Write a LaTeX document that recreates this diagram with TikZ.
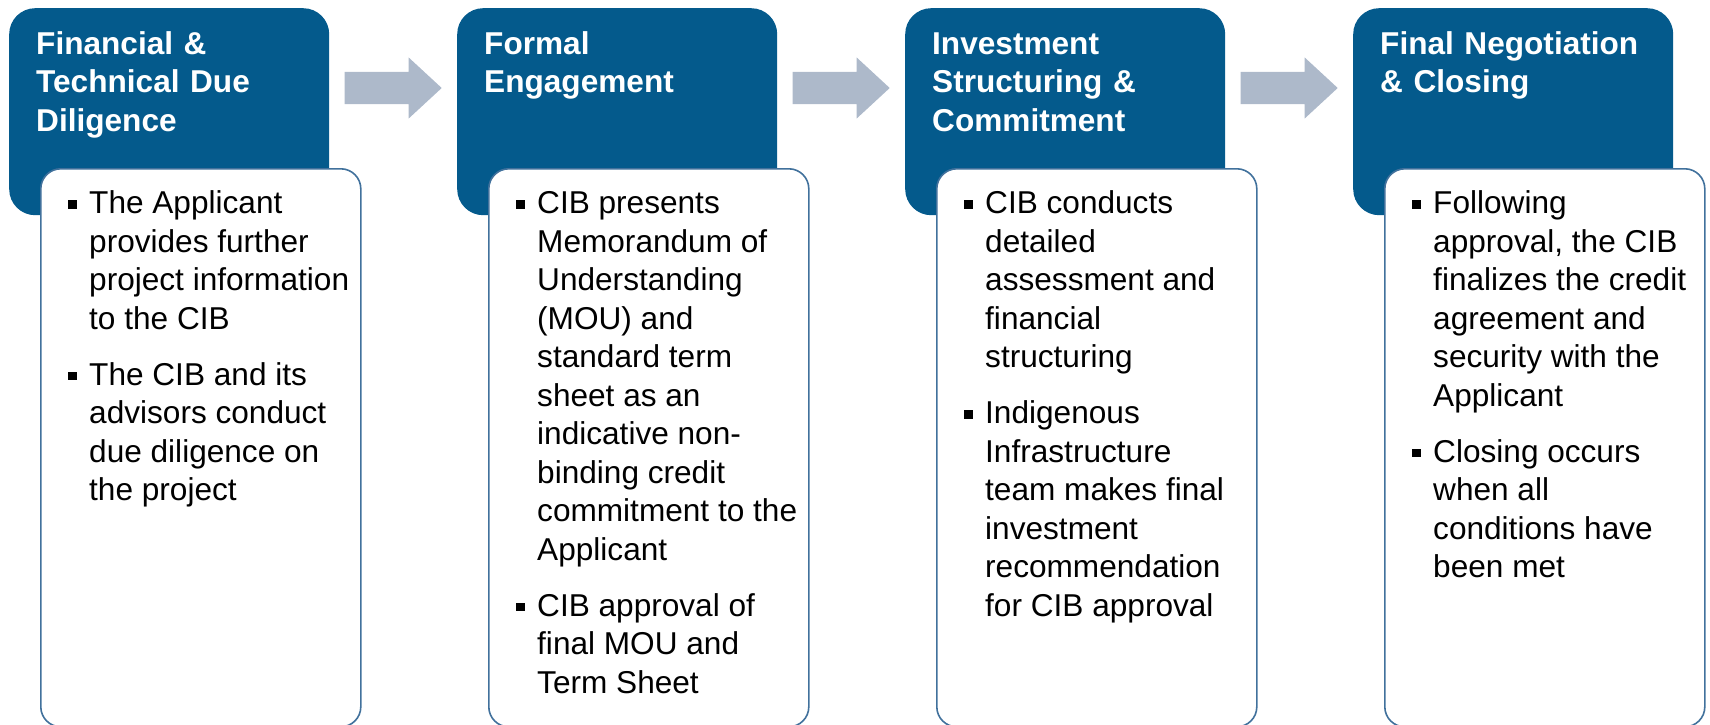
\documentclass[tikz,border=0pt]{standalone}
\usepackage{fontspec}
\setmainfont{Liberation Sans}
\usetikzlibrary{calc}
\definecolor{cibblue}{HTML}{045A8C}
\definecolor{arrowgray}{HTML}{ADB9CA}
\definecolor{edgeblue}{HTML}{41719C}
\newcommand\bitem[1]{\makebox[21.5pt][l]{\rule[5pt]{9pt}{8.5pt}}\begin{tabular}[t]{@{}l@{}}#1\end{tabular}}
\begin{document}
\begin{tikzpicture}[x=1pt,y=-1pt,
  bluebox/.style={fill=cibblue, rounded corners=26pt, minimum width=320pt, minimum height=207pt, inner sep=0pt, anchor=north west},
  whitebox/.style={fill=white, draw=edgeblue, line width=1.6pt, rounded corners=20pt, minimum width=320pt, minimum height=558pt, inner sep=0pt, anchor=north west},
  titletext/.style={text=white, font=\fontsize{31.6pt}{38.3pt}\selectfont\bfseries, text width=300pt, align=left, inner sep=0pt, anchor=base west},
  bodytext/.style={text=black, font=\fontsize{31.6pt}{38.5pt}\selectfont, inner sep=0pt, anchor=base west},
  blockarrow/.pic={\fill[arrowgray] (-48.5pt,16pt) -- (15.5pt,16pt) -- (15.5pt,30.5pt) -- (48.5pt,0pt) -- (15.5pt,-30.5pt) -- (15.5pt,-16pt) -- (-48.5pt,-16pt) -- cycle;}
]
\useasboundingbox (0,0) rectangle (1710,725);

% blue header boxes
\node[bluebox] (b1) at (9,8) {};
\node[bluebox] (b2) at (457,8) {};
\node[bluebox] (b3) at (905,8) {};
\node[bluebox] (b4) at (1353,8) {};

% white content boxes
\node[whitebox] (w1) at ($(b1.north west)+(31pt,-160pt)$) {};
\node[whitebox] (w2) at ($(b2.north west)+(31pt,-160pt)$) {};
\node[whitebox] (w3) at ($(b3.north west)+(31pt,-160pt)$) {};
\node[whitebox] (w4) at ($(b4.north west)+(31pt,-160pt)$) {};

% block arrows
\pic at ($(b1.north east)!.5!(b2.north west)+(0pt,-80pt)$) {blockarrow};
\pic at ($(b2.north east)!.5!(b3.north west)+(0pt,-80pt)$) {blockarrow};
\pic at ($(b3.north east)!.5!(b4.north west)+(0pt,-80pt)$) {blockarrow};

% titles
\node[titletext] (h1) at ($(b1.north west)+(27pt,-46.5pt)$) {Financial \&\\Technical Due\\Diligence};
\node[titletext] (h2) at ($(b2.north west)+(27pt,-46.5pt)$) {Formal\\Engagement};
\node[titletext] (h3) at ($(b3.north west)+(27pt,-46.5pt)$) {Investment\\Structuring \&\\Commitment};
\node[titletext] (h4) at ($(b4.north west)+(27pt,-46.5pt)$) {Final Negotiation\\\& Closing};

% bodies
\node[bodytext] (t1a) at ($(w1.north west)+(27.5pt,-45.5pt)$) {\bitem{The Applicant\\provides further\\project information\\to the CIB}};
\node[bodytext] (t1b) at ($(w1.north west)+(27.5pt,-217pt)$) {\bitem{The CIB and its\\advisors conduct\\due diligence on\\the project}};
\node[bodytext] (t2a) at ($(w2.north west)+(27.5pt,-45.5pt)$) {\bitem{CIB presents\\Memorandum of\\Understanding\\(MOU) and\\standard term\\sheet as an\\indicative non-\\binding credit\\commitment to the\\Applicant}};
\node[bodytext] (t2b) at ($(w2.north west)+(27.5pt,-448pt)$) {\bitem{CIB approval of\\final MOU and\\Term Sheet}};
\node[bodytext] (t3a) at ($(w3.north west)+(27.5pt,-45.5pt)$) {\bitem{CIB conducts\\detailed\\assessment and\\financial\\structuring}};
\node[bodytext] (t3b) at ($(w3.north west)+(27.5pt,-255.5pt)$) {\bitem{Indigenous\\Infrastructure\\team makes final\\investment\\recommendation\\for CIB approval}};
\node[bodytext] (t4a) at ($(w4.north west)+(27.5pt,-45.5pt)$) {\bitem{Following\\approval, the CIB\\finalizes the credit\\agreement and\\security with the\\Applicant}};
\node[bodytext] (t4b) at ($(w4.north west)+(27.5pt,-294pt)$) {\bitem{Closing occurs\\when all\\conditions have\\been met}};
\end{tikzpicture}
\end{document}
